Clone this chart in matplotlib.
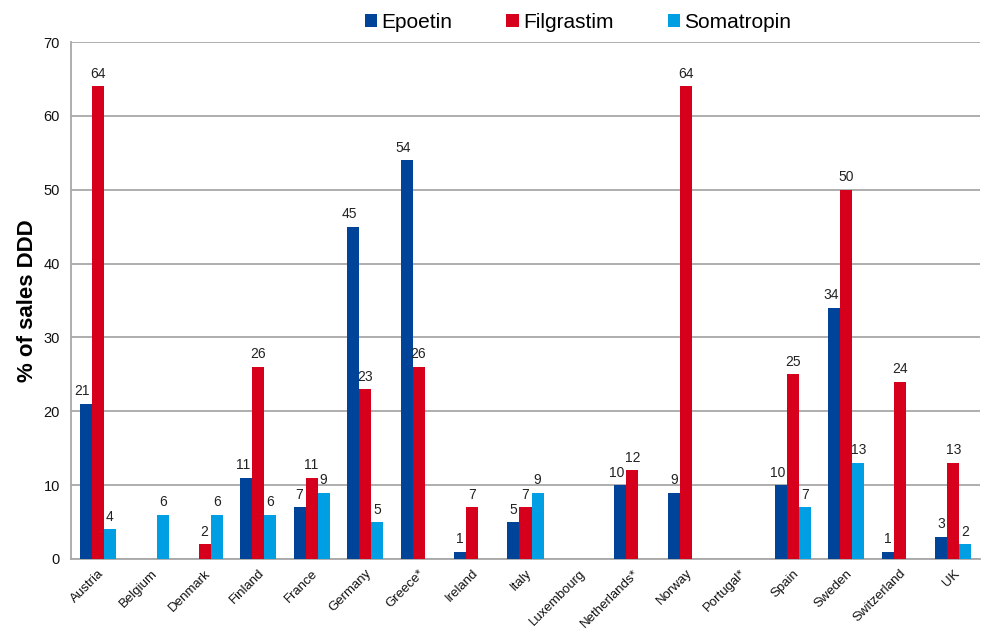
import numpy as np
import matplotlib
matplotlib.use("Agg")
import matplotlib.pyplot as plt

plt.rcParams['font.family'] = ['Liberation Sans', 'DejaVu Sans']

countries = ["Austria", "Belgium", "Denmark", "Finland", "France", "Germany",
             "Greece*", "Ireland", "Italy", "Luxembourg", "Netherlands*", "Norway",
             "Portugal*", "Spain", "Sweden", "Switzerland", "UK"]
nan = np.nan
epoetin = [21, nan, nan, 11, 7, 45, 54, 1, 5, nan, 10, 9, nan, 10, 34, 1, 3]
filgrastim = [64, nan, 2, 26, 11, 23, 26, 7, 7, nan, 12, 64, nan, 25, 50, 24, 13]
somatropin = [4, 6, 6, 6, 9, 5, nan, nan, 9, nan, nan, nan, nan, 7, 13, nan, 2]

series = [("Epoetin", epoetin, "#00449A"),
          ("Filgrastim", filgrastim, "#D6001C"),
          ("Somatropin", somatropin, "#009FE3")]

fig = plt.figure(figsize=(9.92, 6.32), dpi=100)
ax = fig.add_axes([71/992, 1-559/632, 909/992, 517/632])

x = np.arange(len(countries))
w = 0.225
offsets = [-w, 0, w]
handles = []
for (name, vals, color), off in zip(series, offsets):
    vals = np.array(vals, dtype=float)
    bars = ax.bar(x + off, vals, width=w, color=color, label=name, zorder=3)
    handles.append(bars)
    for xi, v in zip(x + off, vals):
        if np.isnan(v):
            continue
        if name == "Epoetin" and v >= 10:
            ax.annotate(f"{int(v)}", (xi, v), xytext=(3, 4), textcoords="offset points",
                        ha="right", va="bottom", fontsize=10, color="#222222")
        else:
            ax.annotate(f"{int(v)}", (xi, v), xytext=(0, 4), textcoords="offset points",
                        ha="center", va="bottom", fontsize=10, color="#222222")

ax.set_xlim(-0.5, len(countries) - 0.5)
ax.set_ylim(0, 70)
ax.set_yticks(np.arange(0, 71, 10))
ax.yaxis.grid(True, color="#A8A8A8", linewidth=1.3, zorder=0)
ax.set_axisbelow(True)
for s in ["top", "right"]:
    ax.spines[s].set_visible(False)
for s in ["left", "bottom"]:
    ax.spines[s].set_color("#A8A8A8")
    ax.spines[s].set_linewidth(1.3)
ax.tick_params(axis="both", length=0, labelsize=10.5, colors="#111111")
ax.tick_params(axis="y", pad=8)
ax.set_xticks(x)
ax.set_xticklabels(countries, rotation=45, ha="right", rotation_mode="anchor",
                   fontsize=9.5)
ax.tick_params(axis="x", pad=6)
ax.set_ylabel("% of sales DDD", fontsize=16, fontweight="bold", labelpad=4)

fig.legend(handles=handles, labels=[s[0] for s in series], loc="center",
           bbox_to_anchor=(578/992, 1-22/632), ncol=3, frameon=False,
           fontsize=15, handlelength=0.6, handleheight=0.6, handletextpad=0.2,
           columnspacing=2.6)

fig.savefig("out.png", dpi=100)
